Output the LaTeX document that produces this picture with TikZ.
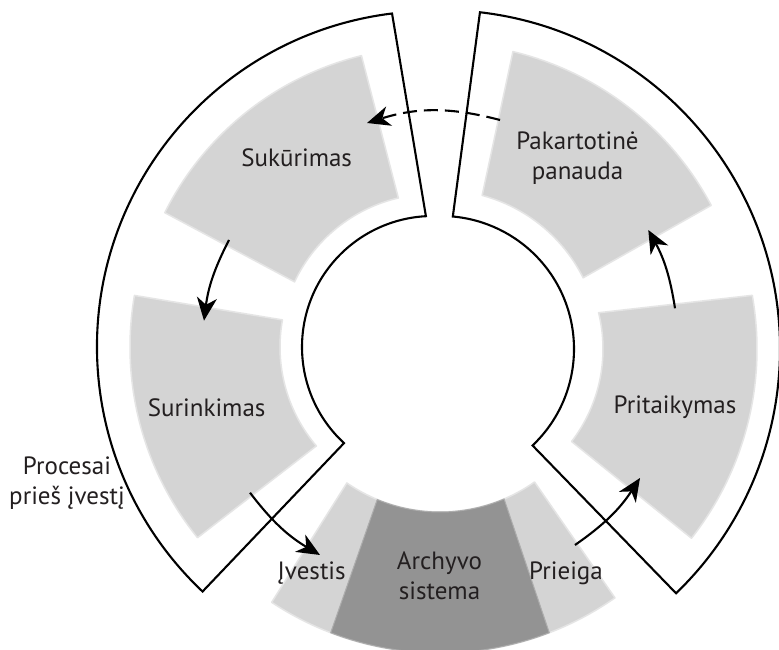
\documentclass[tikz,border=0pt]{standalone}
\usepackage{fontspec}
\setmainfont{PT Sans}
\usetikzlibrary{arrows.meta,calc}
\definecolor{lightsec}{gray}{0.83}
\definecolor{darksec}{gray}{0.575}
\definecolor{secedge}{gray}{0.9}
\definecolor{darkedge}{gray}{0.68}
\definecolor{ink}{HTML}{231F20}
% style, cx, cy, outer start, outer end, inner start, inner end, r outer, r inner
\newcommand{\ringsec}[9]{%
  \path[#1] ($(#2,#3)+(#4:#8)$) arc[start angle=#4, end angle=#5, radius=#8]
    -- ($(#2,#3)+(#6:#9)$) arc[start angle=#6, end angle=#7, radius=#9] -- cycle;}
\tikzset{
  graysec/.style={fill=lightsec, draw=secedge, line width=1.5pt, line join=round},
  darksecstyle/.style={fill=darksec, draw=darkedge, line width=1pt},
  outline/.style={draw=black, line width=2.1pt, line join=miter},
  flow/.style={draw=black, line width=2.1pt, -{Stealth[length=23pt, width=20pt, inset=7pt]}},
  flowdash/.style={flow, dash pattern=on 14pt off 7pt},
  lbl/.style={text=ink, font=\fontsize{25}{30}\selectfont, anchor=base, align=center, inner sep=0pt}
}
\begin{document}
\begin{tikzpicture}[x=1pt, y=1pt]
\useasboundingbox (0,0) rectangle (779,650);
\fill[white] (0,0) rectangle (779,650);

% grey sectors
\ringsec{graysec}{433}{303}{103.8}{153.4}{154.8}{103.1}{300}{153}
\ringsec{graysec}{433}{303}{170.2}{219}{220.3}{169.8}{303}{153}
\ringsec{graysec}{441}{301}{76.4}{28}{26.6}{75}{306}{159}
\ringsec{graysec}{451}{301}{10.1}{-38.2}{-37.5}{13.8}{306}{152}
% bottom: access, archive, ingest
\ringsec{graysec}{440}{302}{236.5}{305}{305.2}{235.4}{305}{164}
\ringsec{darksecstyle}{440}{302}{249}{291}{293}{247.5}{305}{164}

% outlines
\draw[outline] ($(433,303)+(97:336)$) arc[start angle=97, end angle=226.7, radius=336]
  -- ($(433,303)+(227.2:131)$) arc[start angle=227.2, end angle=93.1, radius=131] -- cycle;
\draw[outline] ($(441,301)+(83.4:339)$) arc[start angle=83.4, end angle=-46.1, radius=339]
  -- ($(441,301)+(-46.5:133)$) arc[start angle=-46.5, end angle=84.9, radius=133] -- cycle;

% labels (base = baseline of the last line)
\node[lbl] (suk) at (296.7,483.3) {Sukūrimas};
\node[lbl] (sur) at (206.7,233.3) {Surinkimas};
\node[lbl] (pak) at (577.5,470) {Pakartotinė\\panauda};
\node[lbl] (pri) at (675,236) {Pritaikymas};
\node[lbl] (proc) at (67,145) {Procesai\\prieš įvestį};
\node[lbl] (ivs) at (311.7,70.7) {Įvestis};
\node[lbl] (arch) at (439.5,50.7) {Archyvo\\sistema};
\node[lbl] (prg) at (566,70.7) {Prieiga};

% connector end points
\coordinate (dS) at (500,530);
\coordinate (dE) at (367,527);
\coordinate (a2s) at (229,410);
\coordinate (a2e) at (204,329.3);
\coordinate (a3s) at (250,157.3);
\coordinate (a3e) at (320,95);
\coordinate (a4s) at (575,105);
\coordinate (a4e) at (640,172);
\coordinate (a5s) at (675,341.7);
\coordinate (a5e) at (648.3,420);

\draw[flowdash] (dS) to[bend right=16] (dE);
\draw[flow] (a2s) to[bend right=10] (a2e);
\draw[flow] (a3s) to[bend right=11] (a3e);
\draw[flow] (a4s) to[bend right=11] (a4e);
\draw[flow] (a5s) to[bend right=10] (a5e);
\end{tikzpicture}
\end{document}
